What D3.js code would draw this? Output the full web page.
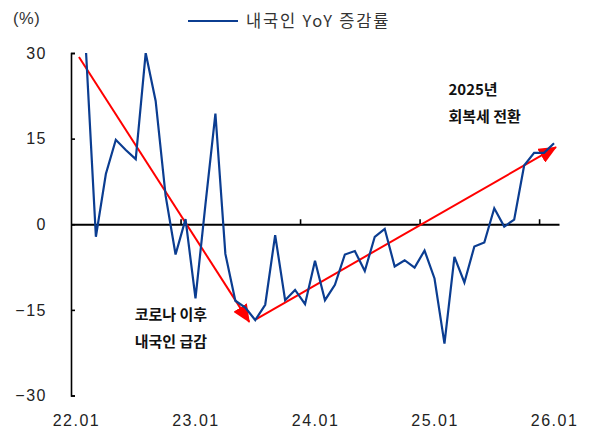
<!DOCTYPE html>
<html>
<head>
<meta charset="utf-8">
<style>
  body { margin: 0; background: #fff; }
  .axis text { font: 16px "Liberation Sans", Arial, sans-serif; fill: #222; letter-spacing: 1.5px; }
  .axis path, .axis line { stroke: #000; }
  .note { font: bold 15px "Noto Sans CJK KR", sans-serif; fill: #111; }
  .legend { font: 16.5px "Noto Sans CJK KR", sans-serif; fill: #333; letter-spacing: 1.8px; }
</style>
</head>
<body>
<script src="https://d3js.org/d3.v7.min.js"></script>
<script>

  // monthly categories 22.01 .. 26.01
  var months = [
    "22.01","22.02","22.03","22.04","22.05","22.06","22.07","22.08","22.09","22.10","22.11","22.12",
    "23.01","23.02","23.03","23.04","23.05","23.06","23.07","23.08","23.09","23.10","23.11","23.12",
    "24.01","24.02","24.03","24.04","24.05","24.06","24.07","24.08","24.09","24.10","24.11","24.12",
    "25.01","25.02","25.03","25.04","25.05","25.06","25.07","25.08","25.09","25.10","25.11","25.12",
    "26.01"
  ];

  // 내국인 YoY 증감률 (%), values above 30 are clipped by the plot area
  var yoy = [
    38.0, 30.5, -2.2, 8.8, 14.8, 13.0, 11.4, 30.0, 21.6, 5.0, -5.3, 0.9,
    -13.0, 3.5, 19.4, -5.2, -13.4, -14.6, -16.8, -14.1, -1.9, -13.3, -11.5, -14.0,
    -6.4, -13.3, -10.6, -5.3, -4.7, -8.2, -2.2, -0.8, -7.4, -6.3, -7.6, -4.6,
    -9.5, -20.9, -5.7, -10.2, -3.9, -3.2, 2.8, -0.4, 0.8, 10.3, 12.5, 12.5,
    14.2
  ];

  var xLabels = ["22.01", "23.01", "24.01", "25.01", "26.01"];
  var yTicks = [-30, -15, 0, 15, 30];

  // trend arrows: [month index, value] start -> end
  var arrows = [
    [[0.3, 29.3], [17.4, -17.1]],
    [[18.1, -16.6], [48.2, 13.5]]
  ];

  var notes = [
    { i: 37.4, v: 22.6, lines: ["2025년", "회복세 전환"] },
    { i: 5.9, v: -16.8, lines: ["코로나 이후", "내국인 급감"] }
  ];

  var width = 591, height = 430;

  var svg = d3.select("body").append("svg")
      .attr("width", width)
      .attr("height", height);

  var x = d3.scaleLinear()
      .domain([-0.5, months.length - 0.5])
      .range([71, 559]);

  var y = d3.scaleLinear()
      .domain([-30, 30])
      .range([395.5, 53]);

  var defs = svg.append("defs");
  defs.append("clipPath").attr("id", "plot")
    .append("rect")
      .attr("x", x.range()[0])
      .attr("y", y(30))
      .attr("width", x.range()[1] - x.range()[0] + 4)
      .attr("height", y(-30) - y(30));

  defs.append("marker")
      .attr("id", "head")
      .attr("markerUnits", "userSpaceOnUse")
      .attr("viewBox", "0 0 18 16")
      .attr("markerWidth", 18)
      .attr("markerHeight", 16)
      .attr("refX", 17)
      .attr("refY", 8)
      .attr("orient", "auto")
    .append("path")
      .attr("d", "M0,0L18,8L0,16Z")
      .attr("fill", "#ff0000");

  // y axis
  var yAxis = d3.axisLeft(y)
      .tickValues(yTicks)
      .tickSizeInner(-4)
      .tickSizeOuter(-4)
      .tickPadding(24)
      .tickFormat(function(d) { return d < 0 ? "\u2212" + Math.abs(d) : d; });

  svg.append("g")
      .attr("class", "axis")
      .attr("transform", "translate(" + x.range()[0] + ",0)")
      .call(yAxis)
      .call(function(g) { g.select(".domain").attr("stroke-width", 1.6); })
      .call(function(g) { g.selectAll(".tick line").attr("stroke-width", 1.6); });

  // zero line with year ticks between categories
  var xAxis = d3.axisBottom(x)
      .tickValues([10.5, 22.5, 34.5, 46.5])
      .tickSizeInner(-5)
      .tickSizeOuter(0)
      .tickFormat("");

  svg.append("g")
      .attr("class", "axis")
      .attr("transform", "translate(0," + y(0) + ")")
      .call(xAxis)
      .call(function(g) { g.select(".domain").attr("stroke-width", 2); })
      .call(function(g) { g.selectAll(".tick line").attr("stroke-width", 1.6); });

  // category labels at the bottom
  var labelAxis = d3.axisBottom(x)
      .tickValues(xLabels.map(function(l) { return months.indexOf(l); }))
      .tickSize(0)
      .tickPadding(19)
      .tickFormat(function(d) { return months[d]; });

  svg.append("g")
      .attr("class", "axis")
      .attr("transform", "translate(0," + y(-30) + ")")
      .call(labelAxis)
      .call(function(g) { g.select(".domain").remove(); });

  // trend arrows
  svg.selectAll(".arrow")
      .data(arrows)
      .enter().append("line")
      .attr("class", "arrow")
      .attr("x1", function(d) { return x(d[0][0]); })
      .attr("y1", function(d) { return y(d[0][1]); })
      .attr("x2", function(d) { return x(d[1][0]); })
      .attr("y2", function(d) { return y(d[1][1]); })
      .attr("stroke", "#ff0000")
      .attr("stroke-width", 2)
      .attr("marker-end", "url(#head)");

  // series line
  var line = d3.line()
      .x(function(d, i) { return x(i); })
      .y(function(d) { return y(d); });

  svg.append("path")
      .datum(yoy)
      .attr("clip-path", "url(#plot)")
      .attr("fill", "none")
      .attr("stroke", "#0b3d91")
      .attr("stroke-width", 2.2)
      .attr("stroke-linejoin", "miter")
      .attr("d", line);

  // annotations
  notes.forEach(function(n) {
    var t = svg.append("text")
        .attr("class", "note")
        .attr("x", x(n.i))
        .attr("y", y(n.v));
    n.lines.forEach(function(s, k) {
      t.append("tspan")
          .attr("x", x(n.i))
          .attr("dy", k === 0 ? 0 : 27)
          .text(s);
    });
  });

  // unit and legend
  svg.append("text")
      .attr("class", "legend")
      .attr("x", 13)
      .attr("y", 24)
      .style("font-family", "'Liberation Sans', Arial, sans-serif")
      .style("letter-spacing", "0.5px")
      .text("(%)");

  svg.append("line")
      .attr("x1", 188).attr("x2", 238)
      .attr("y1", 21).attr("y2", 21)
      .attr("stroke", "#0b3d91")
      .attr("stroke-width", 2);

  svg.append("text")
      .attr("class", "legend")
      .attr("x", 246)
      .attr("y", 27)
      .text("내국인 YoY 증감률");

</script>
</body>
</html>
